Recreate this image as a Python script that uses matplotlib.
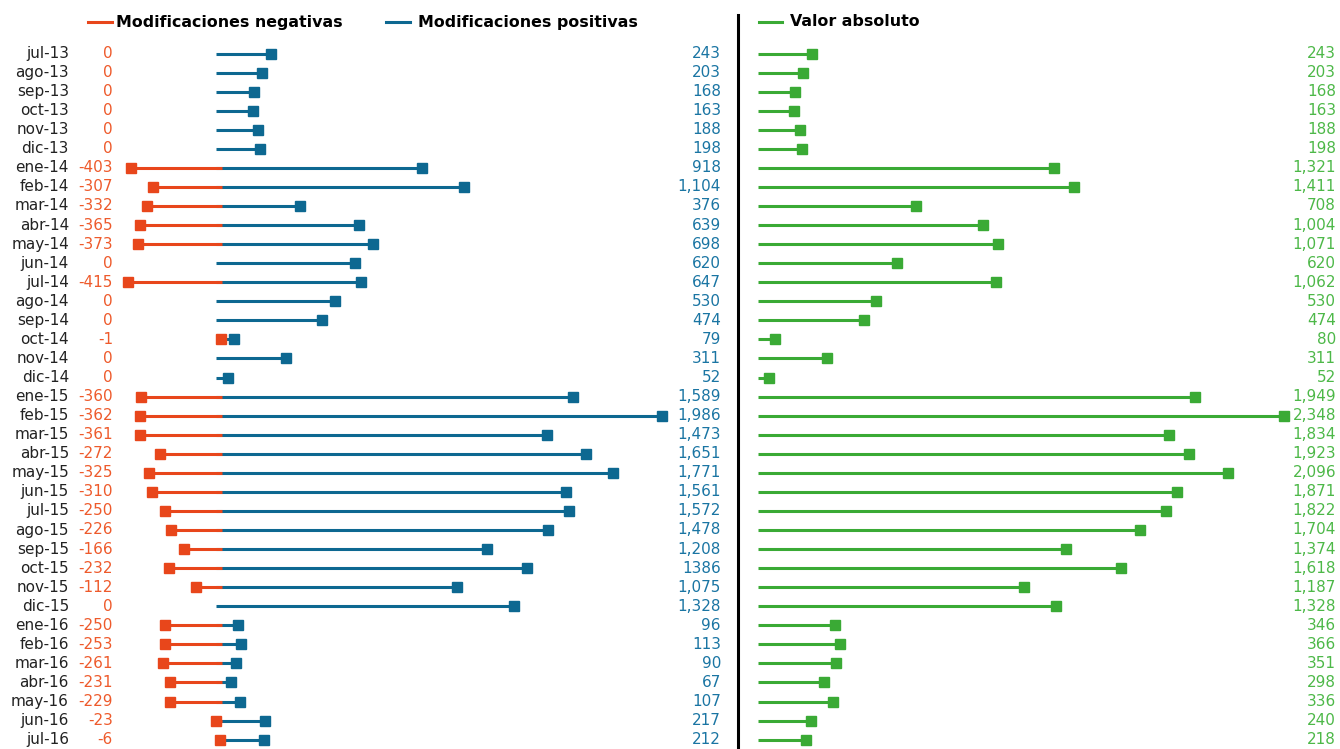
import matplotlib
matplotlib.use("Agg")
import matplotlib.pyplot as plt
from matplotlib.lines import Line2D
from matplotlib.transforms import blended_transform_factory

months = ["jul-13", "ago-13", "sep-13", "oct-13", "nov-13", "dic-13",
          "ene-14", "feb-14", "mar-14", "abr-14", "may-14", "jun-14",
          "jul-14", "ago-14", "sep-14", "oct-14", "nov-14", "dic-14",
          "ene-15", "feb-15", "mar-15", "abr-15", "may-15", "jun-15",
          "jul-15", "ago-15", "sep-15", "oct-15", "nov-15", "dic-15",
          "ene-16", "feb-16", "mar-16", "abr-16", "may-16", "jun-16",
          "jul-16"]
negativas = [0, 0, 0, 0, 0, 0, -403, -307, -332, -365, -373, 0, -415, 0, 0,
             -1, 0, 0, -360, -362, -361, -272, -325, -310, -250, -226, -166,
             -232, -112, 0, -250, -253, -261, -231, -229, -23, -6]
positivas = [243, 203, 168, 163, 188, 198, 918, 1104, 376, 639, 698, 620, 647,
             530, 474, 79, 311, 52, 1589, 1986, 1473, 1651, 1771, 1561, 1572,
             1478, 1208, 1386, 1075, 1328, 96, 113, 90, 67, 107, 217, 212]
absoluto = [243, 203, 168, 163, 188, 198, 1321, 1411, 708, 1004, 1071, 620,
            1062, 530, 474, 80, 311, 52, 1949, 2348, 1834, 1923, 2096, 1871,
            1822, 1704, 1374, 1618, 1187, 1328, 346, 366, 351, 298, 336, 240,
            218]
# the source prints oct-15 without a thousands separator
pos_labels = [f"{v:,}" for v in positivas]
pos_labels[months.index("oct-15")] = "1386"

C_NEG, C_NEG_TXT = "#E8461B", "#EE5A2B"
C_POS, C_POS_TXT = "#0D6891", "#1A75A3"
C_ABS, C_ABS_TXT = "#3AAA35", "#4DB848"

W, H = 1340, 749
fig = plt.figure(figsize=(W / 100, H / 100), dpi=100)
plt.rcParams["font.family"] = ["DejaVu Sans"]

S = 0.2244  # pixels per unit


def make_ax(x0, x1, zero):
    ax = fig.add_axes([x0 / W, 0, (x1 - x0) / W, 1])
    ax.set_xlim((x0 - zero) / S, (x1 - zero) / S)
    ax.set_ylim((H - 53.5) / 19.06, -53.5 / 19.06)
    ax.axis("off")
    ax.patch.set_alpha(0)
    return ax


ax_pos = make_ax(115, 735, 216)
ax_neg = make_ax(115, 735, 221.5)
ax_abs = make_ax(745, 1340, 757.5)

rows = list(range(len(months)))
ms, lw = 7.2, 2.2

for i, v in zip(rows, positivas):
    ax_pos.plot([0, v], [i, i], color=C_POS, lw=lw, solid_capstyle="butt")
    ax_pos.plot(v, i, "s", color=C_POS, ms=ms)
for i, v in zip(rows, negativas):
    if v != 0:
        ax_neg.plot([0, v], [i, i], color=C_NEG, lw=lw, solid_capstyle="butt")
        ax_neg.plot(v, i, "s", color=C_NEG, ms=ms)
for i, v in zip(rows, absoluto):
    ax_abs.plot([0, v], [i, i], color=C_ABS, lw=lw, solid_capstyle="butt")
    ax_abs.plot(v, i, "s", color=C_ABS, ms=ms)

tr = blended_transform_factory(fig.transFigure, ax_pos.transData)
fs = 11
for i in rows:
    fig.text(69 / W, i, months[i], transform=tr, ha="right", va="center",
             fontsize=fs, color="#222222")
    fig.text(113 / W, i, f"{negativas[i]:,}", transform=tr, ha="right",
             va="center", fontsize=fs, color=C_NEG_TXT)
    fig.text(721 / W, i, pos_labels[i], transform=tr, ha="right",
             va="center", fontsize=fs, color=C_POS_TXT)
    fig.text(1336 / W, i, f"{absoluto[i]:,}", transform=tr, ha="right",
             va="center", fontsize=fs, color=C_ABS_TXT)

# divider between the two panels
fig.add_artist(Line2D([738 / W, 738 / W], [0, 1 - 15 / H], color="black",
                      lw=2.2, transform=fig.transFigure))

# legend entries
ly = 1 - 22 / H
for (x0, x1, xt, c, label) in [
        (88, 112, 116, C_NEG, "Modificaciones negativas"),
        (386, 410, 418, C_POS, "Modificaciones positivas"),
        (759, 782, 790, C_ABS, "Valor absoluto")]:
    fig.add_artist(Line2D([x0 / W, x1 / W], [ly, ly], color=c, lw=2.2,
                          transform=fig.transFigure))
    fig.text(xt / W, ly, label, ha="left", va="center", fontsize=11.4,
             fontweight="bold", color="black")

fig.savefig("out.png", dpi=100)
